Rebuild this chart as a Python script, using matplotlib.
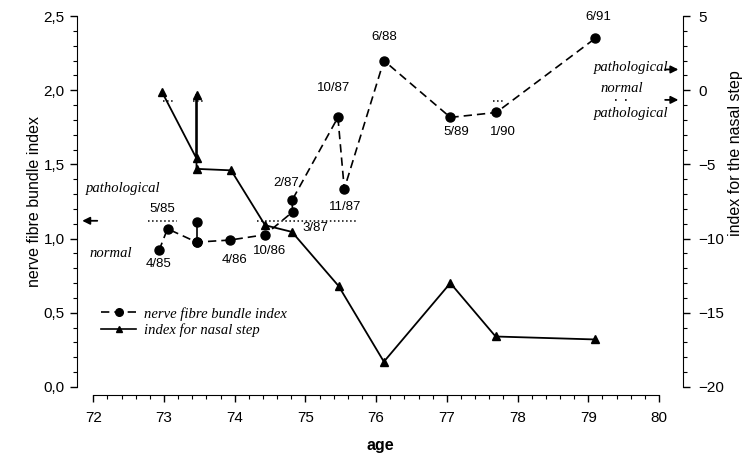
import matplotlib
matplotlib.use("Agg")
import numpy as np
import matplotlib.pyplot as plt
from matplotlib.lines import Line2D
from matplotlib.ticker import MultipleLocator, FuncFormatter

# nerve fibre bundle index (left axis), in chronological order
nfb_age = [72.93, 73.05, 73.46, 73.93, 74.43, 74.82, 74.81, 75.46, 75.55, 76.11, 77.05, 77.70, 79.10]
nfb_val = [0.92, 1.066, 0.976, 0.99, 1.026, 1.18, 1.257, 1.817, 1.335, 2.20, 1.817, 1.85, 2.35]
nfb_lab = ['4/85', '5/85', '', '4/86', '10/86', '3/87', '2/87', '10/87', '11/87', '6/88', '5/89', '1/90', '6/91']
# label offsets in pixels (dx, dy)
lab_off = [(0, -14), (-5, 20), (0, 0), (5, -20), (4, -16), (23, -16), (-6, 17),
           (-4, 29), (1, -18), (0, 24), (6, -15), (7, -20), (3, 21)]

# second measurement at ~10/85
extra_age = [73.46, 73.46]
extra_val = [0.976, 1.11]

# index for nasal step (right axis)
ns_age = [72.97, 73.46, 73.46, 73.46, 73.95, 74.43, 74.81, 75.47, 76.11, 77.05, 77.69, 79.10]
ns_val = [-0.1, -4.6, -0.3, -5.3, -5.4, -9.1, -9.55, -13.2, -18.3, -13.0, -16.6, -16.8]

nfb_limit = 1.12
ns_limit = -0.7

sans = 'Liberation Sans'
serif = 'Liberation Serif'
plt.rcParams['font.family'] = sans

fig = plt.figure(figsize=(7.55, 4.59), dpi=100)
ax = fig.add_axes([0.102, 0.157, 0.8026, 0.808])
ax2 = ax.twinx()

dash = (0, (5, 3))
ax.plot(nfb_age, nfb_val, color='k', lw=1.2, ls=dash, marker='o', ms=6.5, zorder=3)
ax.plot(extra_age, extra_val, color='k', lw=1.2, marker='o', ms=6.5, zorder=3)
ax2.plot(ns_age, ns_val, color='k', lw=1.3, marker='^', ms=6, zorder=3)

for a, v, t, (dx, dy) in zip(nfb_age, nfb_val, nfb_lab, lab_off):
    if t:
        ax.annotate(t, (a, v), xytext=(dx, dy), textcoords='offset pixels',
                    ha='center', va='center', fontsize=9.5)

# threshold dotted marks
ax.plot([72.78, 73.19], [nfb_limit] * 2, color='k', ls=':', lw=1.1)
ax.plot([74.32, 75.74], [nfb_limit] * 2, color='k', ls=':', lw=1.1)
ax2.plot([72.99, 73.13], [ns_limit] * 2, color='k', ls=':', lw=1.1)
ax2.plot([73.41, 73.57], [ns_limit] * 2, color='k', ls=':', lw=1.1)
ax2.plot([77.65, 77.79], [ns_limit] * 2, color='k', ls=':', lw=1.1)

# left side thresholds
ax.text(0.076, 0.536, 'pathological', transform=ax.transAxes, ha='center', va='center',
        family=serif, style='italic', fontsize=10.5)
ax.text(0.056, 0.361, 'normal', transform=ax.transAxes, ha='center', va='center',
        family=serif, style='italic', fontsize=10.5)
ax.annotate('', xy=(0.004, nfb_limit), xytext=(0.038, nfb_limit),
            xycoords=('axes fraction', 'data'),
            arrowprops=dict(arrowstyle='-|>', color='k', lw=1.3, mutation_scale=11))

# right side thresholds
ax2.text(0.914, 0.862, 'pathological', transform=ax2.transAxes, ha='center', va='center',
         family=serif, style='italic', fontsize=10.5)
ax2.text(0.899, 0.806, 'normal', transform=ax2.transAxes, ha='center', va='center',
         family=serif, style='italic', fontsize=10.5)
ax2.plot([0.888, 0.908], [0.774, 0.774], transform=ax2.transAxes, color='k',
         ls=(0, (1, 5)), lw=1.2)
ax2.text(0.914, 0.738, 'pathological', transform=ax2.transAxes, ha='center', va='center',
         family=serif, style='italic', fontsize=10.5)
for lvl in [1.4, -0.65]:
    ax2.annotate('', xy=(0.997, lvl), xytext=(0.966, lvl),
                 xycoords=('axes fraction', 'data'),
                 arrowprops=dict(arrowstyle='-|>', color='k', lw=1.3, mutation_scale=11))

# axes setup
ax.set_xlim(71.77, 80.34)
ax.set_ylim(0, 2.5)
ax2.set_ylim(-20, 5)

for a in (ax, ax2):
    a.spines['top'].set_visible(False)
    a.patch.set_visible(False)
ax2.spines['left'].set_visible(False)
ax2.spines['bottom'].set_visible(False)
ax.spines['right'].set_visible(False)
ax.spines['bottom'].set_bounds(72, 80)
ax.spines['bottom'].set_position(('outward', 6))
ax.spines['left'].set_bounds(0, 2.5)
ax2.spines['right'].set_bounds(-20, 5)

ax.set_xticks(np.arange(72, 81, 1))
ax.set_xticks(np.linspace(72, 80, 41), minor=True)
ax.yaxis.set_major_locator(MultipleLocator(0.5))
ax.yaxis.set_minor_locator(MultipleLocator(0.1))
ax.yaxis.set_major_formatter(FuncFormatter(lambda v, p: f'{v:.1f}'.replace('.', ',')))
ax2.yaxis.set_major_locator(MultipleLocator(5))
ax2.yaxis.set_minor_locator(MultipleLocator(1))

for a in (ax, ax2):
    a.tick_params(which='major', length=5, width=1, labelsize=11, direction='out')
    a.tick_params(which='minor', length=3, width=0.8, direction='out')
ax.tick_params(axis='x', pad=6)
ax.tick_params(axis='y', pad=4)
ax2.tick_params(axis='y', pad=6)

ax.set_xlabel('age', fontsize=11.5, fontweight='bold', labelpad=10)
ax.set_ylabel('nerve fibre bundle index', fontsize=11.5, labelpad=1)
ax2.set_ylabel('index for the nasal step', fontsize=11.5, va='center')
ax2.yaxis.set_label_coords(1.086, 0.63)

handles = [Line2D([], [], color='k', lw=1.2, ls=dash, marker='o', ms=5.5),
           Line2D([], [], color='k', lw=1.2, marker='^', ms=4.5)]
ax.legend(handles, ['nerve fibre bundle index', 'index for nasal step'],
          loc='center left', bbox_to_anchor=(0.04, 0.175), frameon=False,
          prop={'family': serif, 'style': 'italic', 'size': 10.5},
          handlelength=2.4, handletextpad=0.5, labelspacing=0.2,
          borderpad=0, borderaxespad=0)

fig.savefig('out.png', dpi=100)
